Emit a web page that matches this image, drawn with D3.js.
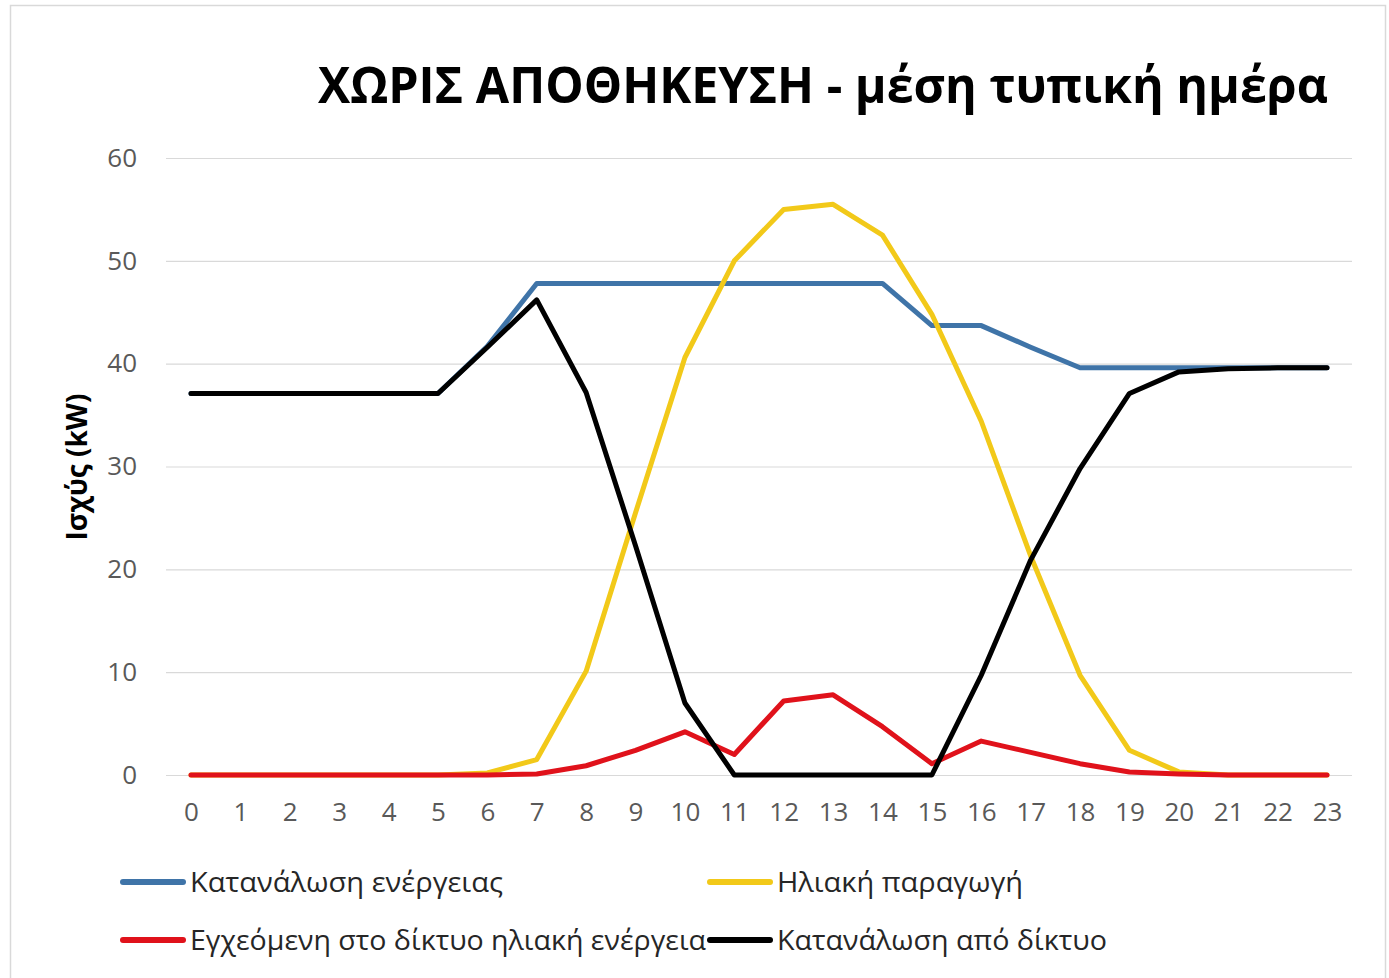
<!DOCTYPE html>
<html>
<head>
<meta charset="utf-8">
<script src="https://cdn.jsdelivr.net/npm/d3@7"></script>
<style>
  body { margin: 0; background: #fff; }
  svg text { font-family: "Open Sans", sans-serif; }
</style>
</head>
<body>
<div id="chart"></div>
<script>
// hours of the day
var hours = d3.range(0, 24);

// series values (kW)
var consumption = [37.1, 37.1, 37.1, 37.1, 37.1, 37.1, 41.7, 47.8, 47.8, 47.8, 47.8, 47.8,
                   47.8, 47.8, 47.8, 43.7, 43.7, 41.6, 39.6, 39.6, 39.6, 39.6, 39.6, 39.6];
var solar = [0, 0, 0, 0, 0, 0, 0.2, 1.5, 10.1, 25.5, 40.6, 50.0,
             55.0, 55.5, 52.5, 44.8, 34.4, 21.3, 9.7, 2.4, 0.3, 0, 0, 0];
var injected = [0, 0, 0, 0, 0, 0, 0, 0.1, 0.9, 2.4, 4.2, 2.0,
                7.2, 7.8, 4.7, 1.1, 3.3, 2.2, 1.1, 0.3, 0.1, 0, 0, 0];
var fromGrid = [37.1, 37.1, 37.1, 37.1, 37.1, 37.1, 41.6, 46.2, 37.2, 22.3, 7.0, 0,
                0, 0, 0, 0, 9.7, 20.9, 29.8, 37.1, 39.2, 39.5, 39.6, 39.6];

var seriesNames = ['Κατανάλωση ενέργειας', 'Ηλιακή παραγωγή',
                   'Εγχεόμενη στο δίκτυο ηλιακή ενέργεια', 'Κατανάλωση από δίκτυο'];
var seriesColors = ['#3f74a8', '#f2c919', '#e0121b', '#000000'];
var yTicks = [0, 10, 20, 30, 40, 50, 60];

var width = 1389, height = 978;

var svg = d3.select('#chart')
    .append('svg')
    .attr('width', width)
    .attr('height', height);

// outer frame
svg.append('rect')
    .attr('x', 10.5).attr('y', 5.5)
    .attr('width', 1375).attr('height', 990)
    .attr('fill', '#fff')
    .attr('stroke', '#d9d9d9')
    .attr('stroke-width', 1.5);

var x = d3.scaleLinear().domain([0, 23]).range([191, 1327]);
var y = d3.scaleLinear().domain([0, 60]).range([775, 158]);

var plotLeft = 166, plotRight = 1352;

// title
svg.append('text')
    .attr('x', 318).attr('y', 103)
    .attr('font-size', 50)
    .attr('font-weight', 'bold')
    .attr('fill', '#000')
    .attr('textLength', 1010)
    .attr('lengthAdjust', 'spacingAndGlyphs')
    .text('ΧΩΡΙΣ ΑΠΟΘΗΚΕΥΣΗ - μέση τυπική ημέρα');

// y axis + gridlines
var yAxis = svg.append('g')
    .attr('transform', 'translate(' + plotLeft + ',0)')
    .call(d3.axisLeft(y).tickValues(yTicks)
        .tickSize(-(plotRight - plotLeft)).tickPadding(29));
yAxis.select('.domain').remove();
yAxis.selectAll('.tick line').attr('stroke', '#d9d9d9').attr('stroke-width', 1.2);
yAxis.selectAll('.tick text')
    .attr('font-size', 26).attr('fill', '#595959')
    .attr('font-family', '"Open Sans", sans-serif');

// x axis labels
var xAxis = svg.append('g')
    .attr('transform', 'translate(0,' + y(0) + ')')
    .call(d3.axisBottom(x).tickValues(hours).tickFormat(d3.format('d'))
        .tickSize(0).tickPadding(28));
xAxis.select('.domain').remove();
xAxis.selectAll('.tick text')
    .attr('font-size', 26).attr('fill', '#595959')
    .attr('font-family', '"Open Sans", sans-serif');

// y axis title
svg.append('text')
    .attr('transform', 'translate(87,467) rotate(-90)')
    .attr('text-anchor', 'middle')
    .attr('font-size', 28)
    .attr('font-weight', 'bold')
    .attr('fill', '#000')
    .text('Ισχύς (kW)');

// lines
var line = d3.line()
    .x(function(d, i) { return x(hours[i]); })
    .y(function(d) { return y(d); });

var allSeries = [consumption, solar, injected, fromGrid];
allSeries.forEach(function(s, i) {
  svg.append('path')
      .datum(s)
      .attr('d', line)
      .attr('fill', 'none')
      .attr('stroke', seriesColors[i])
      .attr('stroke-width', 5)
      .attr('stroke-linejoin', 'round')
      .attr('stroke-linecap', 'round');
});

// legend
var legendPos = [
  {sx: 120, tx: 190, y: 882, w: 313},
  {sx: 707, tx: 777, y: 882, w: 246},
  {sx: 120, tx: 190, y: 940, w: 516},
  {sx: 707, tx: 777, y: 940, w: 330}
];
legendPos.forEach(function(p, i) {
  svg.append('line')
      .attr('x1', p.sx + 3).attr('x2', p.sx + 63)
      .attr('y1', p.y).attr('y2', p.y)
      .attr('stroke', seriesColors[i])
      .attr('stroke-width', 6)
      .attr('stroke-linecap', 'round');
  svg.append('text')
      .attr('x', p.tx).attr('y', p.y + 10)
      .attr('font-size', 28)
      .attr('fill', '#262626')
      .attr('textLength', p.w)
      .attr('lengthAdjust', 'spacingAndGlyphs')
      .text(seriesNames[i]);
});
</script>
</body>
</html>
